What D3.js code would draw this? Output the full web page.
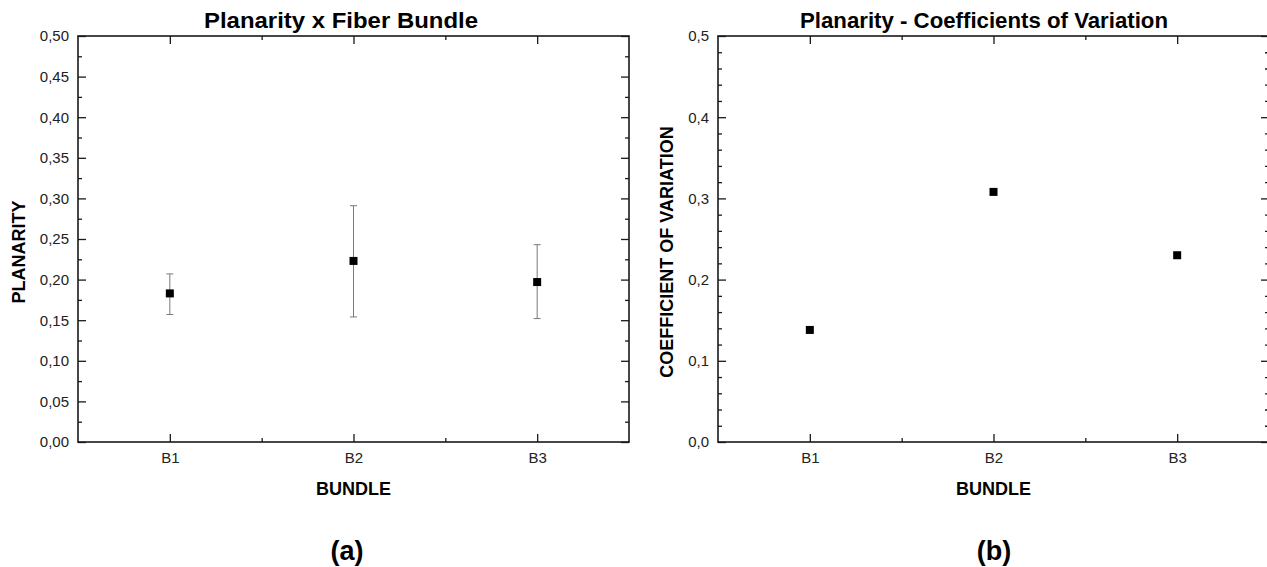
<!DOCTYPE html>
<html>
<head>
<meta charset="utf-8">
<script src="https://cdn.jsdelivr.net/npm/d3@7"></script>
<style>
  html, body { margin: 0; padding: 0; background: #fff; }
  svg { display: block; font-family: Arial, "Liberation Sans", sans-serif; }
</style>
</head>
<body>
<svg id="chart" width="1267" height="567"></svg>
<script>
// Bundles on the x axis
const bundles = ["B1", "B2", "B3"];

// Panel (a): mean planarity with error bar limits
const planarityMean = [0.183, 0.223, 0.197];
const planarityLow  = [0.157, 0.154, 0.152];
const planarityHigh = [0.207, 0.291, 0.243];

// Panel (b): coefficient of variation per bundle
const cvValues = [0.138, 0.308, 0.230];

// Tick values
const planarityMajorTicks = [0, 0.05, 0.10, 0.15, 0.20, 0.25, 0.30, 0.35, 0.40, 0.45, 0.50];
const planarityMinorTicks = [0.025, 0.075, 0.125, 0.175, 0.225, 0.275, 0.325, 0.375, 0.425, 0.475];
const cvMajorTicks = [0, 0.1, 0.2, 0.3, 0.4, 0.5];
const cvMinorTicks = [0.02, 0.04, 0.06, 0.08, 0.12, 0.14, 0.16, 0.18, 0.22, 0.24, 0.26, 0.28,
                      0.32, 0.34, 0.36, 0.38, 0.42, 0.44, 0.46, 0.48];

const commaLocale = d3.formatLocale({ decimal: ",", thousands: ".", grouping: [3], currency: ["", ""] });

const svg = d3.select("#chart");
const ink = "#1a1a1a";

function drawPanel(cfg) {
  const { left, right, top, bottom } = cfg;
  const x = d3.scaleLinear().domain([0.5, bundles.length + 0.5]).range([left, right]);
  const y = d3.scaleLinear().domain([0, 0.5]).range([bottom, top]);
  const g = svg.append("g");

  // minor ticks (drawn first, underneath)
  const minorX = [1.5, 2.5];
  g.append("g").attr("transform", `translate(${left},0)`)
    .call(d3.axisLeft(y).tickValues(cfg.minorTicks).tickSize(-4).tickFormat(""));
  g.append("g").attr("transform", `translate(${right},0)`)
    .call(d3.axisRight(y).tickValues(cfg.minorTicks).tickSize(-4).tickFormat(""));
  g.append("g").attr("transform", `translate(0,${bottom})`)
    .call(d3.axisBottom(x).tickValues(minorX).tickSize(-4).tickFormat(""));
  g.append("g").attr("transform", `translate(0,${top})`)
    .call(d3.axisTop(x).tickValues(minorX).tickSize(-4).tickFormat(""));

  // major ticks
  const fmt = commaLocale.format(cfg.tickFormat);
  g.append("g").attr("transform", `translate(${left},0)`)
    .call(d3.axisLeft(y).tickValues(cfg.majorTicks).tickSize(-8).tickPadding(9).tickFormat(fmt));
  g.append("g").attr("transform", `translate(${right},0)`)
    .call(d3.axisRight(y).tickValues(cfg.majorTicks).tickSize(-8).tickFormat(""));
  g.append("g").attr("transform", `translate(0,${bottom})`)
    .call(d3.axisBottom(x).tickValues([1, 2, 3]).tickSize(-8).tickPadding(10)
      .tickFormat(d => bundles[d - 1]));
  g.append("g").attr("transform", `translate(0,${top})`)
    .call(d3.axisTop(x).tickValues([1, 2, 3]).tickSize(-8).tickFormat(""));

  g.selectAll(".domain").remove();
  g.selectAll(".tick line").attr("stroke", ink).attr("stroke-width", 1.3);
  g.selectAll(".tick text")
    .attr("fill", "#222")
    .style("font-size", "15px")
    .style("font-family", "Arial, 'Liberation Sans', sans-serif");

  // frame
  g.append("rect")
    .attr("x", left).attr("y", top)
    .attr("width", right - left).attr("height", bottom - top)
    .attr("fill", "none").attr("stroke", ink).attr("stroke-width", 1.6);

  // error bars
  if (cfg.low) {
    const eb = g.append("g").attr("stroke", "#7a7a7a").attr("stroke-width", 1);
    bundles.forEach((b, i) => {
      const cx = x(i + 1);
      eb.append("line").attr("x1", cx).attr("x2", cx)
        .attr("y1", y(cfg.low[i])).attr("y2", y(cfg.high[i]));
      [cfg.low[i], cfg.high[i]].forEach(v => {
        eb.append("line").attr("x1", cx - 3.5).attr("x2", cx + 3.5)
          .attr("y1", y(v)).attr("y2", y(v));
      });
    });
  }

  // markers
  g.append("g").selectAll("rect")
    .data(cfg.values)
    .join("rect")
    .attr("x", (d, i) => x(i + 1) - 4)
    .attr("y", d => y(d) - 4)
    .attr("width", 8).attr("height", 8)
    .attr("fill", "#000");

  // title
  g.append("text")
    .attr("x", cfg.titleX).attr("y", 28)
    .attr("text-anchor", "middle")
    .style("font-size", "22px").attr("font-weight", "bold")
    .attr("textLength", cfg.titleWidth).attr("lengthAdjust", "spacingAndGlyphs")
    .attr("fill", "#000")
    .text(cfg.title);

  // axis titles
  g.append("text")
    .attr("x", (left + right) / 2).attr("y", 495)
    .attr("text-anchor", "middle")
    .style("font-size", "18px").attr("font-weight", "bold").attr("fill", "#000")
    .text("BUNDLE");

  g.append("text")
    .attr("transform", `translate(${cfg.yLabelX},252) rotate(-90)`)
    .attr("text-anchor", "middle")
    .style("font-size", "18px").attr("font-weight", "bold").attr("fill", "#000")
    .text(cfg.yLabel);

  // panel letter
  g.append("text")
    .attr("x", cfg.letterX).attr("y", 560)
    .attr("text-anchor", "middle")
    .style("font-size", "27px").attr("font-weight", "bold").attr("fill", "#000")
    .style("font-family", "'Liberation Sans Narrow', 'Arial Narrow', Arial, sans-serif")
    .text(cfg.letter);
}

drawPanel({
  left: 78, right: 629, top: 36, bottom: 442,
  majorTicks: planarityMajorTicks, minorTicks: planarityMinorTicks, tickFormat: ".2f",
  values: planarityMean, low: planarityLow, high: planarityHigh,
  title: "Planarity x Fiber Bundle", titleX: 341, titleWidth: 274,
  yLabel: "PLANARITY", yLabelX: 25, letter: "(a)", letterX: 347
});

drawPanel({
  left: 718, right: 1269, top: 36, bottom: 442,
  majorTicks: cvMajorTicks, minorTicks: cvMinorTicks, tickFormat: ".1f",
  values: cvValues,
  title: "Planarity - Coefficients of Variation", titleX: 984, titleWidth: 368,
  yLabel: "COEFFICIENT OF VARIATION", yLabelX: 673, letter: "(b)", letterX: 994
});
</script>
</body>
</html>
